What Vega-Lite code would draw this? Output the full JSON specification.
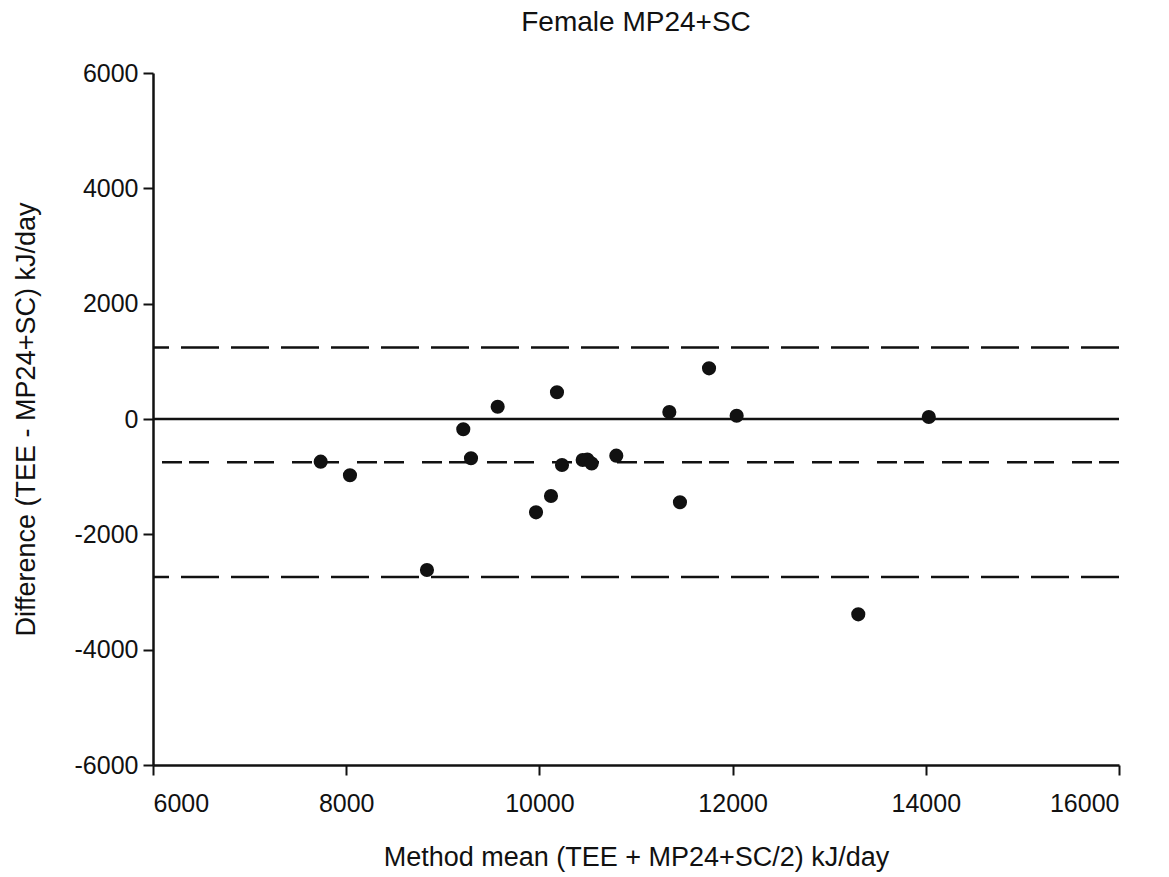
{
  "$schema": "https://vega.github.io/schema/vega-lite/v6.json",
  "autosize": {"type": "none"},
  "width": 966,
  "height": 692,
  "padding": {"left": 153, "top": 73, "right": 50, "bottom": 112},
  "background": "white",
  "config": {
    "view": {"stroke": null},
    "font": "Liberation Sans",
    "axis": {
      "grid": false,
      "domainColor": "#111111",
      "domainWidth": 2.5,
      "tickColor": "#111111",
      "tickWidth": 2,
      "tickSize": 10,
      "labelFont": "Liberation Sans",
      "labelFontSize": 25,
      "labelColor": "#111111",
      "titleFont": "Liberation Sans",
      "titleFontSize": 27,
      "titleFontWeight": "normal",
      "titleColor": "#111111"
    }
  },
  "title": {
    "text": "Female MP24+SC",
    "font": "Liberation Sans",
    "fontSize": 28,
    "fontWeight": "normal",
    "color": "#111111",
    "offset": 24
  },
  "datasets": {
    "points": [
      {"mean": 7736, "diff": -740},
      {"mean": 8039, "diff": -976},
      {"mean": 8836, "diff": -2618},
      {"mean": 9212, "diff": -177},
      {"mean": 9292, "diff": -681},
      {"mean": 9568, "diff": 213},
      {"mean": 9965, "diff": -1618},
      {"mean": 10120, "diff": -1335},
      {"mean": 10182, "diff": 463},
      {"mean": 10234, "diff": -798},
      {"mean": 10448, "diff": -711},
      {"mean": 10496, "diff": -702},
      {"mean": 10541, "diff": -772},
      {"mean": 10796, "diff": -636},
      {"mean": 11345, "diff": 121},
      {"mean": 11455, "diff": -1444},
      {"mean": 11756, "diff": 879},
      {"mean": 12042, "diff": 57},
      {"mean": 13301, "diff": -3387},
      {"mean": 14031, "diff": 35}
    ],
    "zero": [{"value": 0}],
    "meanline": [{"value": -750}],
    "limits": [{"value": 1240}, {"value": -2740}]
  },
  "layer": [
    {
      "data": {"name": "zero"},
      "mark": {"type": "rule", "color": "#111111", "strokeWidth": 2.4},
      "encoding": {
        "y": {"field": "value", "type": "quantitative", "scale": {"domain": [-6000, 6000], "nice": false}}
      }
    },
    {
      "data": {"name": "limits"},
      "mark": {"type": "rule", "color": "#111111", "strokeWidth": 2.5, "strokeDash": [38, 12]},
      "encoding": {
        "y": {"field": "value", "type": "quantitative"}
      }
    },
    {
      "data": {"name": "meanline"},
      "mark": {"type": "rule", "color": "#111111", "strokeWidth": 2.5, "strokeDash": [20, 7, 20, 18]},
      "encoding": {
        "y": {"field": "value", "type": "quantitative"}
      }
    },
    {
      "data": {"name": "points"},
      "mark": {"type": "circle", "color": "#111111", "opacity": 1, "size": 200},
      "encoding": {
        "x": {
          "field": "mean",
          "type": "quantitative",
          "scale": {"domain": [6000, 16000], "nice": false},
          "axis": {
            "title": "Method mean (TEE + MP24+SC/2) kJ/day",
            "values": [6000, 8000, 10000, 12000, 14000, 16000],
            "labelExpr": "datum.value + ''",
            "labelPadding": 16,
            "titlePadding": 28
          }
        },
        "y": {
          "field": "diff",
          "type": "quantitative",
          "scale": {"domain": [-6000, 6000], "nice": false},
          "axis": {
            "title": "Difference (TEE - MP24+SC) kJ/day",
            "values": [-6000, -4000, -2000, 0, 2000, 4000, 6000],
            "labelExpr": "datum.value + ''",
            "labelPadding": 5,
            "titlePadding": 34
          }
        }
      }
    }
  ]
}
